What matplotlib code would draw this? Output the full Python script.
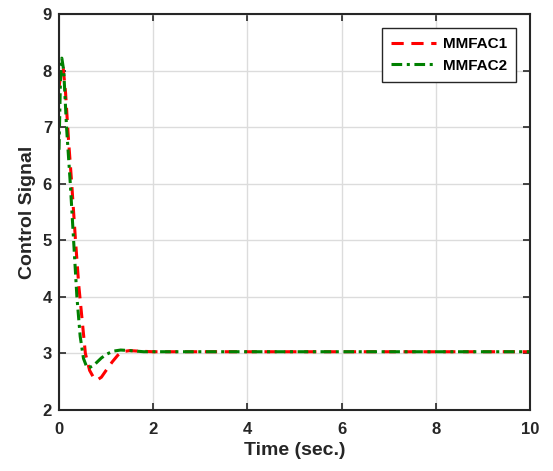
import matplotlib
matplotlib.use('Agg')
from matplotlib import pyplot as plt

# MMFAC1 (red dashed)
t1 = [0, 0.04, 0.09, 0.14, 0.2, 0.27, 0.35, 0.42, 0.49, 0.56, 0.65, 0.73, 0.81, 0.9, 1.0,
      1.13, 1.25, 1.34, 1.5, 1.7, 2.0, 10]
u1 = [7.7, 7.95, 8.04, 7.6, 6.8, 6.0, 5.0, 4.2, 3.6, 3.0, 2.7, 2.58, 2.53, 2.58, 2.7,
      2.85, 2.97, 3.03, 3.05, 3.04, 3.03, 3.03]

# MMFAC2 (green dash-dot)
t2 = [0, 0.03, 0.06, 0.1, 0.16, 0.24, 0.31, 0.38, 0.45, 0.52, 0.58, 0.63, 0.75, 0.9, 1.02,
      1.15, 1.31, 1.5, 1.8, 2.5, 10]
u2 = [6.6, 7.8, 8.22, 8.0, 7.0, 6.0, 5.0, 4.0, 3.3, 2.91, 2.78, 2.74, 2.8, 2.92, 2.99,
      3.04, 3.06, 3.05, 3.03, 3.03, 3.03]

plt.rcParams['font.family'] = ['Liberation Sans', 'DejaVu Sans']
plt.rcParams['font.weight'] = 'bold'

fig = plt.figure(figsize=(5.53, 4.71), dpi=100)
ax = fig.add_axes([59 / 553, 1 - 410 / 471, 471 / 553, 396 / 471])

ax.plot(t1, u1, color='red', linestyle=(0, (4, 2.5)), linewidth=2.2, label='MMFAC1')
ax.plot(t2, u2, color='green', linestyle=(0, (3.5, 1.5, 1, 1.5)), linewidth=2.2, label='MMFAC2')

ax.set_xlim(0, 10)
ax.set_ylim(2, 9)
ax.set_xticks([0, 2, 4, 6, 8, 10])
ax.set_yticks(range(2, 10))
ax.grid(True, color='#dcdcdc', linewidth=1)
ax.set_axisbelow(True)
ax.tick_params(direction='in', top=True, right=True, labelsize=12, width=1.2, length=5,
               colors='#262626')
ax.tick_params(axis='x', pad=9)
ax.tick_params(axis='y', pad=5)
for s in ax.spines.values():
    s.set_linewidth(1.5)
    s.set_color('#262626')
for lab in ax.get_xticklabels() + ax.get_yticklabels():
    lab.set_fontweight('bold')

ax.set_xlabel('Time (sec.)', fontsize=14, fontweight='bold', color='#262626', labelpad=3)
ax.set_ylabel('Control Signal', fontsize=14, fontweight='bold', color='#262626', labelpad=5)

leg = ax.legend(loc='upper right', fontsize=11, fancybox=False, edgecolor='#262626',
                framealpha=1, borderpad=0.6, handlelength=2.9, handletextpad=0.45,
                labelspacing=0.5, borderaxespad=0, bbox_to_anchor=(0.970, 0.9646))
leg.get_frame().set_linewidth(1)
for txt in leg.get_texts():
    txt.set_fontweight('bold')

fig.savefig('out.png', dpi=100)
